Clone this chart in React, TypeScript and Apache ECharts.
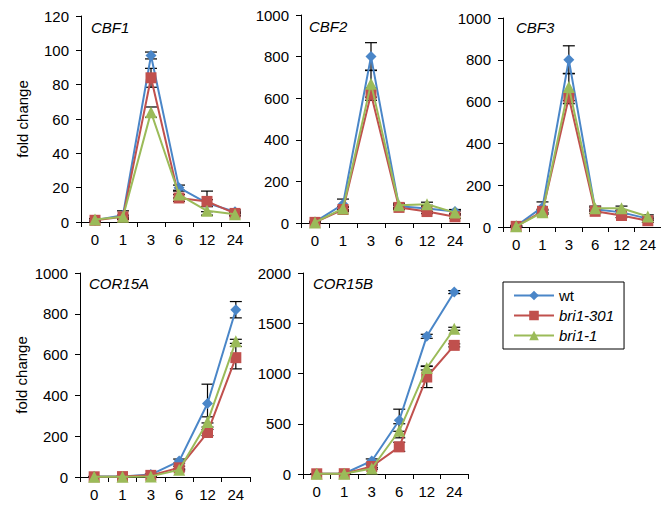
import React, { useEffect, useRef } from "react";
import * as echarts from "echarts";

const categories = ["0", "1", "3", "6", "12", "24"];
const seriesNames = ["wt", "bri1-301", "bri1-1"];

// CBF1
const cbf1Wt = [1, 4, 97, 20, 11, 6];
const cbf1WtErr = [1, 2.5, 2, 1.5, 2, 1];
const cbf1R = [1, 3, 84, 14, 12, 5];
const cbf1RErr = [1, 1, 5.5, 2, 6, 1];
const cbf1G = [1.5, 3, 64, 16, 6.5, 4.5];
const cbf1GErr = [0.5, 0.5, 3, 2, 2.5, 1];

// CBF2
const cbf2Wt = [5, 90, 800, 80, 70, 55];
const cbf2WtErr = [3, 25, 67, 10, 15, 10];
const cbf2R = [3, 65, 620, 75, 55, 30];
const cbf2RErr = [2, 10, 30, 10, 10, 8];
const cbf2G = [3, 70, 670, 85, 90, 50];
const cbf2GErr = [2, 10, 65, 10, 10, 8];

// CBF3
const cbf3Wt = [5, 95, 800, 85, 70, 40];
const cbf3WtErr = [3, 25, 67, 10, 10, 8];
const cbf3R = [3, 75, 620, 75, 55, 30];
const cbf3RErr = [2, 10, 30, 10, 10, 8];
const cbf3G = [3, 70, 670, 90, 90, 50];
const cbf3GErr = [2, 10, 65, 10, 10, 8];

// COR15A
const cor15aWt = [2, 3, 12, 78, 360, 820];
const cor15aWtErr = [1, 1, 3, 10, 95, 40];
const cor15aR = [1, 2, 8, 45, 218, 585];
const cor15aRErr = [1, 1, 2, 8, 15, 55];
const cor15aG = [1, 1, 3, 35, 270, 665];
const cor15aGErr = [1, 1, 1, 5, 25, 10];

// COR15B
const cor15bWt = [3, 5, 130, 535, 1370, 1810];
const cor15bWtErr = [2, 2, 20, 110, 20, 15];
const cor15bR = [2, 3, 75, 270, 965, 1280];
const cor15bRErr = [2, 2, 15, 45, 105, 15];
const cor15bG = [2, 3, 55, 430, 1055, 1445];
const cor15bGErr = [2, 2, 10, 70, 20, 15];

const panelTitles = ["CBF1", "CBF2", "CBF3", "COR15A", "COR15B"];
const yMax = [120, 1000, 1000, 1000, 2000];
const yInterval = [20, 200, 200, 200, 500];

const panels = [
  [[cbf1Wt, cbf1WtErr], [cbf1R, cbf1RErr], [cbf1G, cbf1GErr]],
  [[cbf2Wt, cbf2WtErr], [cbf2R, cbf2RErr], [cbf2G, cbf2GErr]],
  [[cbf3Wt, cbf3WtErr], [cbf3R, cbf3RErr], [cbf3G, cbf3GErr]],
  [[cor15aWt, cor15aWtErr], [cor15aR, cor15aRErr], [cor15aG, cor15aGErr]],
  [[cor15bWt, cor15bWtErr], [cor15bR, cor15bRErr], [cor15bG, cor15bGErr]],
];

const colors = ["#4a86c8", "#c0504d", "#9bbb59"];
const symbols = ["diamond", "rect", "triangle"];
const symbolSizes = [11, 11, 12];

const grids = [
  { left: 81, top: 16, width: 168, height: 206 },
  { left: 301, top: 15, width: 168, height: 208 },
  { left: 503, top: 18, width: 160, height: 209 },
  { left: 80, top: 273, width: 170, height: 204 },
  { left: 303, top: 273, width: 165, height: 201 },
];
const titlePos = [
  { left: 91, top: 20 },
  { left: 309, top: 19 },
  { left: 516, top: 20 },
  { left: 89, top: 276 },
  { left: 313, top: 276 },
];

const FONT = "Liberation Sans, Arial, sans-serif";
const FS = 15;

export default function App() {
  const ref = useRef<HTMLDivElement>(null);
  useEffect(() => {
    if (!ref.current) return;
    const chart = echarts.init(ref.current, undefined, { renderer: "svg" });
    const xAxes: any[] = [];
    const yAxes: any[] = [];
    const series: any[] = [];
    grids.forEach((g, gi) => {
      xAxes.push({
        type: "category",
        gridIndex: gi,
        data: categories,
        boundaryGap: true,
        axisLine: { lineStyle: { color: "#000", width: 1 } },
        axisTick: { show: true, length: 5, lineStyle: { color: "#000" } },
        axisLabel: { color: "#000", fontSize: FS, fontFamily: FONT, margin: 10, interval: 0 },
      });
      yAxes.push({
        type: "value",
        gridIndex: gi,
        min: 0,
        max: yMax[gi],
        interval: yInterval[gi],
        splitLine: { show: false },
        axisLine: { show: true, lineStyle: { color: "#000", width: 1 } },
        axisTick: { show: true, length: 5, lineStyle: { color: "#000" } },
        axisLabel: {
          color: "#000",
          fontSize: FS,
          fontFamily: FONT,
          margin: 12,
          formatter: (v: number) => String(v),
        },
        name: gi === 0 || gi === 3 ? "fold change" : "",
        nameLocation: "middle",
        nameGap: 51,
        nameTextStyle: { color: "#000", fontSize: FS, fontFamily: FONT },
      });
      panels[gi].forEach((pair, si) => {
        const vals = pair[0];
        const errs = pair[1];
        series.push({
          type: "custom",
          name: "err" + gi + "-" + si,
          xAxisIndex: gi,
          yAxisIndex: gi,
          z: 1,
          silent: true,
          encode: { x: 0, y: [1, 2] },
          data: vals.map((v, i) => [i, Math.max(0, v - errs[i]), v + errs[i]]),
          renderItem: (params: any, api: any) => {
            const x = api.value(0);
            const lo = api.value(1);
            const hi = api.value(2);
            const p1 = api.coord([x, hi]);
            const p2 = api.coord([x, lo]);
            const w = 6;
            const st = { stroke: "#000", lineWidth: 1.2 };
            return {
              type: "group",
              children: [
                { type: "line", shape: { x1: p1[0], y1: p1[1], x2: p2[0], y2: p2[1] }, style: st },
                { type: "line", shape: { x1: p1[0] - w, y1: p1[1], x2: p1[0] + w, y2: p1[1] }, style: st },
                { type: "line", shape: { x1: p2[0] - w, y1: p2[1], x2: p2[0] + w, y2: p2[1] }, style: st },
              ],
            };
          },
        });
      });
      panels[gi].forEach((pair, si) => {
        series.push({
          type: "line",
          name: seriesNames[si],
          xAxisIndex: gi,
          yAxisIndex: gi,
          data: pair[0],
          z: 2 + si,
          symbol: symbols[si],
          symbolSize: symbolSizes[si],
          showAllSymbol: true,
          lineStyle: { color: colors[si], width: 2 },
          itemStyle: { color: colors[si] },
        });
      });
    });

    chart.setOption({
      animation: false,
      backgroundColor: "#fff",
      title: panelTitles.map((t, i) => ({
        text: t,
        left: titlePos[i].left,
        top: titlePos[i].top,
        padding: 0,
        textStyle: { fontSize: FS, fontStyle: "italic", fontWeight: "normal", color: "#000", fontFamily: FONT },
      })),
      legend: {
        data: seriesNames,
        orient: "vertical",
        left: 503,
        top: 282,
        padding: [6, 10, 6, 10],
        itemGap: 5,
        itemWidth: 40,
        itemHeight: 12,
        borderColor: "#000",
        borderWidth: 1,
        formatter: (name: string) => (name === "wt" ? name : "{i|" + name + "}"),
        textStyle: {
          color: "#000",
          fontSize: FS,
          fontFamily: FONT,
          rich: { i: { fontStyle: "italic", fontSize: FS, fontFamily: FONT, color: "#000" } },
        },
      },
      grid: grids.map((g) => ({ ...g, containLabel: false })),
      xAxis: xAxes,
      yAxis: yAxes,
      series,
    });
    return () => chart.dispose();
  }, []);
  return (
    <div
      ref={ref}
      style={{ position: "absolute", left: 0, top: 0, width: 661, height: 510 }}
    />
  );
}
